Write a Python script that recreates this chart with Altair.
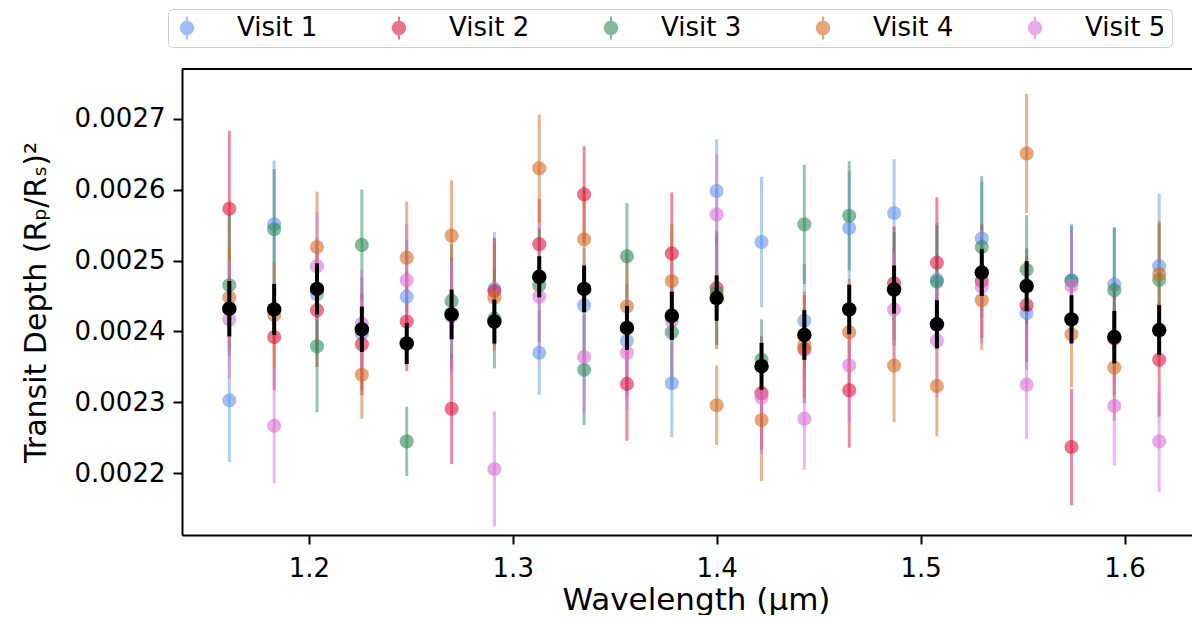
import altair as alt
import pandas as pd

wavelength = [1.161, 1.183, 1.204, 1.226, 1.248, 1.270, 1.291, 1.313, 1.335, 1.356, 1.378,
              1.400, 1.422, 1.443, 1.465, 1.487, 1.508, 1.530, 1.552, 1.574, 1.595, 1.617]

visit_names = ["Visit 1", "Visit 2", "Visit 3", "Visit 4", "Visit 5"]
visit_colors = ["#6495ED", "#DC143C", "#2E8B57", "#D2691E", "#DA70D6"]

visit1 = [0.002303, 0.002551, 0.002452, 0.002397, 0.002449, 0.002425, 0.002460, 0.002370, 0.002437, 0.002387, 0.002327,
          0.002598, 0.002526, 0.002415, 0.002546, 0.002567, 0.002473, 0.002531, 0.002426, 0.002472, 0.002466, 0.002492]
visit1_err = [0.000087, 0.000090, 0.000080, 0.000080, 0.000080, 0.000080, 0.000080, 0.000059, 0.000080, 0.000080, 0.000076,
              0.000073, 0.000092, 0.000080, 0.000080, 0.000076, 0.000080, 0.000080, 0.000080, 0.000080, 0.000080, 0.000102]

visit2 = [0.002573, 0.002392, 0.002430, 0.002382, 0.002414, 0.002291, 0.002457, 0.002523, 0.002593, 0.002326, 0.002510,
          0.002461, 0.002313, 0.002375, 0.002317, 0.002468, 0.002497, 0.002471, 0.002437, 0.002237, 0.002390, 0.002360]
visit2_err = [0.000110, 0.000075, 0.000080, 0.000072, 0.000070, 0.000078, 0.000075, 0.000064, 0.000068, 0.000080, 0.000086,
              0.000080, 0.000080, 0.000076, 0.000081, 0.000080, 0.000092, 0.000080, 0.000080, 0.000082, 0.000080, 0.000080]

visit3 = [0.002465, 0.002544, 0.002379, 0.002522, 0.002245, 0.002443, 0.002418, 0.002465, 0.002346, 0.002506, 0.002399,
          0.002455, 0.002360, 0.002551, 0.002563, 0.002460, 0.002470, 0.002519, 0.002487, 0.002471, 0.002458, 0.002473]
visit3_err = [0.000100, 0.000085, 0.000093, 0.000078, 0.000049, 0.000080, 0.000070, 0.000080, 0.000078, 0.000075, 0.000080,
              0.000080, 0.000057, 0.000084, 0.000077, 0.000080, 0.000080, 0.000100, 0.000077, 0.000078, 0.000089, 0.000080]

visit4 = [0.002448, 0.002423, 0.002519, 0.002339, 0.002504, 0.002535, 0.002448, 0.002630, 0.002530, 0.002435, 0.002471,
          0.002296, 0.002275, 0.002381, 0.002399, 0.002352, 0.002323, 0.002444, 0.002651, 0.002396, 0.002349, 0.002481]
visit4_err = [0.000071, 0.000075, 0.000078, 0.000062, 0.000079, 0.000078, 0.000075, 0.000076, 0.000075, 0.000075, 0.000080,
              0.000056, 0.000086, 0.000075, 0.000075, 0.000080, 0.000071, 0.000070, 0.000084, 0.000075, 0.000075, 0.000075]

visit5 = [0.002417, 0.002267, 0.002492, 0.002411, 0.002472, 0.002421, 0.002206, 0.002449, 0.002364, 0.002370, 0.002415,
          0.002565, 0.002307, 0.002277, 0.002352, 0.002431, 0.002387, 0.002463, 0.002325, 0.002464, 0.002295, 0.002245]
visit5_err = [0.000083, 0.000081, 0.000076, 0.000077, 0.000080, 0.000080, 0.000081, 0.000080, 0.000080, 0.000080, 0.000080,
              0.000085, 0.000080, 0.000072, 0.000080, 0.000080, 0.000080, 0.000080, 0.000077, 0.000080, 0.000084, 0.000071]

mean_depth = [0.002432, 0.002431, 0.002460, 0.002403, 0.002383, 0.002424, 0.002414, 0.002477, 0.002460, 0.002405, 0.002422,
              0.002447, 0.002351, 0.002395, 0.002431, 0.002459, 0.002410, 0.002483, 0.002464, 0.002417, 0.002392, 0.002402]
mean_err = [0.000039, 0.000036, 0.000036, 0.000032, 0.000029, 0.000035, 0.000031, 0.000029, 0.000033, 0.000031, 0.000034,
            0.000032, 0.000033, 0.000035, 0.000035, 0.000034, 0.000034, 0.000033, 0.000035, 0.000034, 0.000037, 0.000035]

x_ticks = [1.2, 1.3, 1.4, 1.5, 1.6]
y_ticks = [0.0022, 0.0023, 0.0024, 0.0025, 0.0026, 0.0027]

rows = []
for name, vals, errs in zip(visit_names,
                            [visit1, visit2, visit3, visit4, visit5],
                            [visit1_err, visit2_err, visit3_err, visit4_err, visit5_err]):
    for w, v, e in zip(wavelength, vals, errs):
        rows.append({"wavelength": w, "visit": name, "depth": v, "lo": v - e, "hi": v + e})
df = pd.DataFrame(rows)
mdf = pd.DataFrame({
    "wavelength": wavelength,
    "depth": mean_depth,
    "lo": [v - e for v, e in zip(mean_depth, mean_err)],
    "hi": [v + e for v, e in zip(mean_depth, mean_err)],
})

W, H = 1010, 466
FONT = "DejaVu Sans"
YTITLE = "Transit Depth (Rₚ/Rₛ)²"
XTITLE = "Wavelength (μm)"

xscale = alt.Scale(domain=[1.1378, 1.6331], nice=False, zero=False)
yscale = alt.Scale(domain=[0.002113, 0.00277], nice=False, zero=False)
cscale = alt.Scale(domain=visit_names, range=visit_colors)

xaxis = alt.Axis(values=x_ticks, format=".1f", title=XTITLE, titleX=514, titleY=74,
                 titleBaseline="alphabetic", titleFontSize=31, labelPadding=11)
yaxis = alt.Axis(values=y_ticks, format=".4f", title=YTITLE, titleFontSize=30,
                 titlePadding=23, labelPadding=8)

X = alt.X("wavelength:Q", scale=xscale, axis=xaxis, title=XTITLE)

symbol_path = ("M-0.6,0A0.6,0.6,0,1,1,0.6,0A0.6,0.6,0,1,1,-0.6,0Z"
               "M-0.09,-0.95H0.09V0.95H-0.09Z")

legend = alt.Legend(title=None, orient="none", legendX=-14, legendY=-60,
                    direction="horizontal", columns=5,
                    symbolType=symbol_path, symbolSize=576, symbolOpacity=0.6,
                    symbolStrokeWidth=0, labelFontSize=26, labelFont=FONT,
                    labelColor="black", labelOffset=37, columnPadding=68,
                    padding=6, strokeColor="#cccccc", cornerRadius=5,
                    fillColor="white")

bars = alt.Chart(df).mark_rule(strokeWidth=3, opacity=0.5).encode(
    x=X,
    y=alt.Y("lo:Q", scale=yscale, axis=yaxis, title=YTITLE),
    y2="hi:Q",
    color=alt.Color("visit:N", scale=cscale, legend=legend),
)

pts = alt.Chart(df).mark_circle(size=200, opacity=0.6).encode(
    x=X,
    y=alt.Y("depth:Q", scale=yscale, axis=yaxis, title=YTITLE),
    color=alt.Color("visit:N", scale=cscale, legend=legend),
)

mbars = alt.Chart(mdf).mark_rule(strokeWidth=4, color="black").encode(
    x=X,
    y=alt.Y("lo:Q", scale=yscale, axis=yaxis, title=YTITLE),
    y2="hi:Q",
)

mpts = alt.Chart(mdf).mark_circle(size=210, opacity=1, color="black").encode(
    x=X,
    y=alt.Y("depth:Q", scale=yscale, axis=yaxis, title=YTITLE),
)

top_spine = alt.Chart(alt.Data(values=[{"a": 1}])).mark_rule(color="black", strokeWidth=2).encode(
    x=alt.value(0), x2=alt.value(W), y=alt.value(0)
)

chart = alt.layer(bars, pts, mbars, mpts, top_spine).properties(
    width=W, height=H,
    autosize=alt.AutoSizeParams(type="none"),
    padding={"left": 174, "top": 61, "right": 0, "bottom": 80},
).configure(font=FONT).configure_view(stroke=None).configure_axis(
    labelFont=FONT, labelFontSize=26, labelColor="black",
    titleFont=FONT, titleFontWeight="normal", titleColor="black",
    tickColor="black", domainColor="black", tickWidth=2, domainWidth=2,
    tickSize=9, grid=False,
)

chart.save("out.html", embed_options={"renderer": "svg", "actions": False})
